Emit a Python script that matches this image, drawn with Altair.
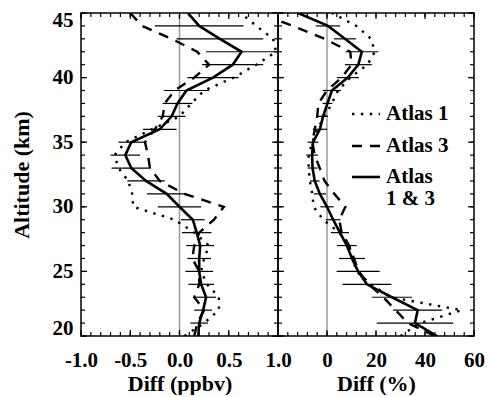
import altair as alt
import pandas as pd

# ---------------- data ----------------
altitude = list(range(20, 46))            # km
err_altitude = list(range(21, 45))        # km, levels with error bars

# left panel: Diff (ppbv)
ppbv_atlas1 = [0.05, 0.25, 0.40, 0.40, 0.28, 0.22, 0.25, 0.30, 0.15, -0.05,
               -0.47, -0.48, -0.52, -0.62, -0.66, -0.55, -0.28, 0.00, 0.12, 0.25,
               0.55, 0.78, 0.98, 0.95, 0.78, 0.62]
ppbv_atlas3 = [0.15, 0.18, 0.25, 0.15, 0.20, 0.20, 0.13, 0.15, 0.20, 0.35,
               0.45, 0.05, -0.20, -0.30, -0.32, -0.35, -0.25, -0.17, -0.15, -0.05,
               0.15, 0.30, 0.18, -0.08, -0.38, -0.50]
ppbv_combined = [0.19, 0.20, 0.24, 0.27, 0.22, 0.20, 0.20, 0.21, 0.175, 0.135,
                 0.00, -0.13, -0.34, -0.49, -0.55, -0.49, -0.20, -0.08, -0.02, 0.07,
                 0.34, 0.54, 0.63, 0.41, 0.20, 0.085]
ppbv_err = [0.09, 0.09, 0.10, 0.13, 0.14, 0.12, 0.14, 0.15, 0.12, 0.22,
            0.20, 0.19, 0.20, 0.15, 0.13, 0.17, 0.14, 0.15, 0.23, 0.26,
            0.31, 0.36, 0.44, 0.45]

# right panel: Diff (%)
pct_atlas1 = [30, 38, 55, 26, 18, 12, 10.5, 9, 5, -1.5,
              -5.5, -6, -7, -7.5, -7.5, -6, -4, -1, 2, 4.5,
              9.5, 16.5, 19.5, 18, 12, 2]
pct_atlas3 = [44, 33, 28, 23, 17, 13, 11, 9, 6, 5,
              7.5, 3, -1, -3, -5, -6, -5, -4, -3.5, 0,
              6, 10, 9.5, -1, -14, -28]
pct_combined = [44.9, 35.9, 37, 26.5, 16.3, 12.7, 10.2, 8.1, 5.3, 2.5,
                0, -2.9, -5, -5.9, -6.1, -5.7, -2.9, -1.6, 0.2, 2,
                8.5, 12.8, 14.2, 7.3, 0.4, -11.8]
pct_err = [15.6, 10, 8.2, 10, 8.8, 5.3, 4, 3.7, 3, 2.7,
           2.5, 2, 2, 2.4, 2.2, 2.9, 2, 2, 3.7, 4.5,
           5.5, 6.7, 4.5, 5]

# axes / ticks
y_major = [20, 25, 30, 35, 40, 45]
y_minor = list(range(20, 46))
ppbv_major = [-1.0, -0.5, 0.0, 0.5, 1.0]
ppbv_minor = [round(-1.0 + 0.1 * i, 1) for i in range(21)]
pct_major = [-20, 0, 20, 40, 60]
pct_labels = [0, 20, 40, 60]
pct_minor = list(range(-20, 61, 4))

legend_labels = ["Atlas 1", "Atlas 3", "Atlas\n1 & 3"]

# ---------------- chart ----------------
FONT = "Liberation Serif"
H = 323
W_L = 197
W_R = 196
MAJ = 6
MIN = 4

yscale = alt.Scale(domain=[20, 45], nice=False, zero=False)


def build_panel(a1, a3, comb, err, xdomain, major, minor, xaxis, yaxis, width, legend=False):
    xscale = alt.Scale(domain=xdomain, nice=False, zero=False)
    df = pd.DataFrame({"alt": altitude, "a1": a1, "a3": a3, "c": comb})
    c_at_err = [comb[altitude.index(a)] for a in err_altitude]
    edf = pd.DataFrame({"alt": err_altitude,
                        "lo": [c - e for c, e in zip(c_at_err, err)],
                        "hi": [c + e for c, e in zip(c_at_err, err)]})

    def X(field):
        return alt.X(field, type="quantitative", scale=xscale, axis=xaxis)

    def Y(field):
        return alt.Y(field, type="quantitative", scale=yscale, axis=yaxis)

    layers = []
    zero = alt.Chart(pd.DataFrame({"v": [0]})).mark_rule(
        color="#9a9a9a", strokeWidth=1.5).encode(x=X("v"))
    layers.append(zero)

    ebar = alt.Chart(edf).mark_rule(color="black", strokeWidth=1.2, clip=True).encode(
        x=X("lo"), x2="hi", y=Y("alt"))
    layers.append(ebar)

    base = alt.Chart(df)
    l1 = base.mark_line(color="black", strokeWidth=2.4, strokeDash=[2.4, 6.5], clip=True).encode(
        x=X("a1"), y=Y("alt"), order="alt:Q")
    l3 = base.mark_line(color="black", strokeWidth=2.4, strokeDash=[10, 8], clip=True).encode(
        x=X("a3"), y=Y("alt"), order="alt:Q")
    lc = base.mark_line(color="black", strokeWidth=2.6, clip=True).encode(
        x=X("c"), y=Y("alt"), order="alt:Q")
    layers += [l1, l3, lc]

    # inward ticks on all four sides
    xmin = pd.DataFrame({"v": minor})
    xmaj = pd.DataFrame({"v": major})
    ymin = pd.DataFrame({"v": y_minor})
    ymaj = pd.DataFrame({"v": y_major})
    for d, ln in ((xmin, MIN), (xmaj, MAJ)):
        layers.append(alt.Chart(d).mark_rule(color="black", strokeWidth=1.2).encode(
            x=X("v"), y=alt.value(H), y2=alt.value(H - ln)))
        layers.append(alt.Chart(d).mark_rule(color="black", strokeWidth=1.2).encode(
            x=X("v"), y=alt.value(0), y2=alt.value(ln)))
    for d, ln in ((ymin, MIN), (ymaj, MAJ)):
        layers.append(alt.Chart(d).mark_rule(color="black", strokeWidth=1.2).encode(
            y=Y("v"), x=alt.value(0), x2=alt.value(ln)))
        layers.append(alt.Chart(d).mark_rule(color="black", strokeWidth=1.2).encode(
            y=Y("v"), x=alt.value(width), x2=alt.value(width - ln)))

    if legend:
        one = pd.DataFrame({"k": [0]})
        sx0, sx1, tx = 74, 102, 108
        rows = [(101, [2.4, 6.5]), (133, [10, 8]), (164, None)]
        for i, (yy, dash) in enumerate(rows):
            kw = dict(color="black", strokeWidth=2.4 if dash else 2.6)
            if dash:
                kw["strokeDash"] = dash
            layers.append(alt.Chart(one).mark_rule(**kw).encode(
                x=alt.value(sx0), x2=alt.value(sx1), y=alt.value(yy)))
        for i, lab in enumerate(legend_labels):
            yy = rows[i][0]
            layers.append(alt.Chart(pd.DataFrame({"t": [lab]})).mark_text(
                align="left", baseline="top" if "\n" in lab else "middle",
                font=FONT, fontWeight="bold", fontSize=21, color="black",
                lineBreak="\n", lineHeight=22).encode(
                text="t:N", x=alt.value(tx), y=alt.value(yy - 11 if "\n" in lab else yy)))

    return alt.layer(*layers).properties(width=width, height=H)


left_xaxis = alt.Axis(title="Diff (ppbv)", values=ppbv_major, ticks=False, domain=False,
                      labelFlush=False, labelPadding=13, titlePadding=3, grid=False,
                      labelExpr="(datum.value < 0 ? '-' : '') + format(abs(datum.value), '.1f')")
left_yaxis = alt.Axis(title="Altitude (km)", values=y_major, ticks=False, domain=False,
                      labelFlush=False, labelPadding=8, titlePadding=19, grid=False,
                      labelOffset={"condition": [{"test": "datum.value >= 45", "value": 7},
                                                 {"test": "datum.value <= 20", "value": -8}],
                                   "value": 0})
right_xaxis = alt.Axis(title="Diff (%)", values=pct_labels, ticks=False, domain=False,
                       labelFlush=False, labelPadding=13, titlePadding=3, grid=False,
                       format="d")

left = build_panel(ppbv_atlas1, ppbv_atlas3, ppbv_combined, ppbv_err, [-1, 1],
                   ppbv_major, ppbv_minor, left_xaxis, left_yaxis, W_L)
right = build_panel(pct_atlas1, pct_atlas3, pct_combined, pct_err, [-20, 60],
                    pct_major, pct_minor, right_xaxis, None, W_R, legend=True)

chart = alt.hconcat(left, right, spacing=0, bounds="flush").properties(
    padding={"left": 9, "top": 8, "right": 0, "bottom": 0},
    background="white"
).configure_view(
    stroke="black", strokeWidth=1.5
).configure_axis(
    labelFont=FONT, titleFont=FONT, labelFontWeight="bold", titleFontWeight="bold",
    labelColor="black", titleColor="black", labelFontSize=21, titleFontSize=22
)

chart.save("out.html", embed_options={"renderer": "svg", "actions": False})
